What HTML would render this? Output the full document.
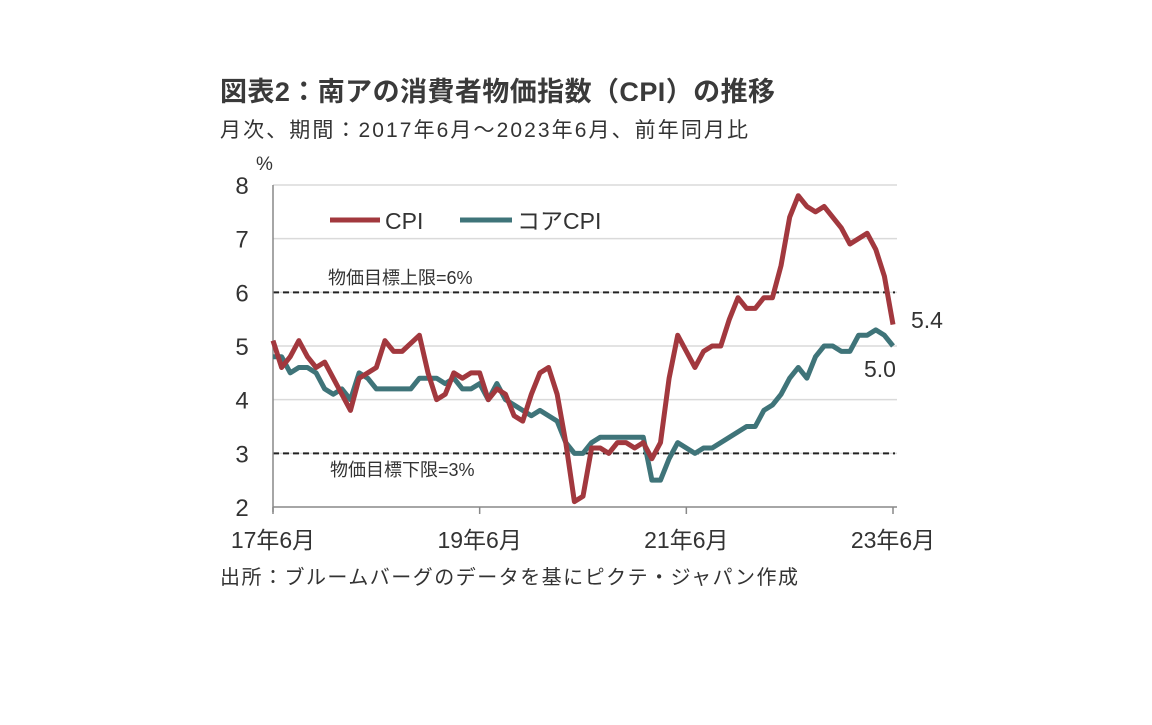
<!DOCTYPE html>
<html><head><meta charset="utf-8">
<style>
body{margin:0;background:#fff;width:1152px;height:720px;overflow:hidden;font-family:"Liberation Sans","Noto Sans CJK JP",sans-serif;}
svg text{font-family:"Liberation Sans","Noto Sans CJK JP",sans-serif;fill:#333;}
</style></head><body>
<svg width="1152" height="720">
<text x="220" y="101" font-size="27" font-weight="bold" style="fill:#3a3a3a" textLength="555">図表2：南アの消費者物価指数（CPI）の推移</text>
<text x="220" y="137" font-size="21" textLength="528">月次、期間：2017年6月～2023年6月、前年同月比</text>
<text x="256" y="170" font-size="19">%</text>
<g id="grid"></g>
<g id="axes"></g>
<g id="series"></g>
<text x="328" y="284" font-size="18">物価目標上限=6%</text>
<text x="330" y="476" font-size="18">物価目標下限=3%</text>
<g>
<line x1="330" y1="220" x2="380" y2="220" stroke="#a2383e" stroke-width="5"/>
<text x="385" y="229" font-size="23">CPI</text>
<line x1="460" y1="220" x2="512" y2="220" stroke="#3f7479" stroke-width="5"/>
<text x="517" y="229" font-size="23">コアCPI</text>
</g>
<text x="911" y="328" font-size="23">5.4</text>
<text x="864" y="377" font-size="23">5.0</text>
<text x="220" y="584" font-size="20" textLength="578">出所：ブルームバーグのデータを基にピクテ・ジャパン作成</text>
</svg>
<script>
const cpi=[5.1,4.6,4.8,5.1,4.8,4.6,4.7,4.4,4.1,3.8,4.4,4.5,4.6,5.1,4.9,4.9,5.05,5.2,4.5,4.0,4.1,4.5,4.4,4.5,4.5,4.0,4.2,4.1,3.7,3.6,4.1,4.5,4.6,4.1,3.2,2.1,2.2,3.1,3.1,3.0,3.2,3.2,3.1,3.2,2.9,3.2,4.4,5.2,4.9,4.6,4.9,5.0,5.0,5.5,5.9,5.7,5.7,5.9,5.9,6.5,7.4,7.8,7.6,7.5,7.6,7.4,7.2,6.9,7.0,7.1,6.8,6.3,5.4];
const core=[4.8,4.8,4.5,4.6,4.6,4.5,4.2,4.1,4.2,4.0,4.5,4.4,4.2,4.2,4.2,4.2,4.2,4.4,4.4,4.4,4.3,4.4,4.2,4.2,4.3,4.0,4.3,4.0,3.9,3.8,3.7,3.8,3.7,3.6,3.2,3.0,3.0,3.2,3.3,3.3,3.3,3.3,3.3,3.3,2.5,2.5,2.9,3.2,3.1,3.0,3.1,3.1,3.2,3.3,3.4,3.5,3.5,3.8,3.9,4.1,4.4,4.6,4.4,4.8,5.0,5.0,4.9,4.9,5.2,5.2,5.3,5.2,5.0];
const yTicks=[2,3,4,5,6,7,8];
const xTickIdx=[0,24,48,72];
const xTickLabels=["17年6月","19年6月","21年6月","23年6月"];
const targets=[6,3];
const NS="http://www.w3.org/2000/svg";
const x=i=>273+i*(893-273)/72;
const y=v=>507-(v-2)*(507-185)/6;
function mk(tag,attrs,parent){const e=document.createElementNS(NS,tag);for(const k in attrs)e.setAttribute(k,attrs[k]);document.getElementById(parent).appendChild(e);return e;}
yTicks.forEach(v=>{
 if(v>2){const g=mk('line',{x1:273,x2:897,y1:y(v),y2:y(v),stroke:'#dadada','stroke-width':1.5},'grid');
 
 }
 const t=mk('text',{x:242,y:y(v)+9,'font-size':24,'text-anchor':'middle'},'axes');t.textContent=v;
 
 
});
targets.forEach(v=>{const l=mk('line',{x1:273,x2:895,y1:y(v),y2:y(v),stroke:'#222','stroke-width':2,'stroke-dasharray':'6,4'},'grid');
 
 });
const ax=mk('line',{x1:273,x2:273,y1:185,y2:512,stroke:'#888','stroke-width':1.5},'axes');


const bx=mk('line',{x1:273,x2:897,y1:507,y2:507,stroke:'#888','stroke-width':1.5},'axes');


xTickIdx.forEach((i,k)=>{
 const l=mk('line',{x1:x(i),x2:x(i),y1:507,y2:514,stroke:'#888','stroke-width':1.5},'axes');
 
 
 const t=mk('text',{x:x(i),y:548,'font-size':23,'text-anchor':'middle'},'axes');t.textContent=xTickLabels[k];
 
 
});
function line(d,c,n){const p=mk('polyline',{points:d.map((v,i)=>x(i)+','+y(v)).join(' '),fill:'none',stroke:c,'stroke-width':5,'stroke-linejoin':'round'},'series');
 
 }
line(core,'#3f7479','core-cpi-line');
line(cpi,'#a2383e','cpi-line');
</script>
</body></html>
